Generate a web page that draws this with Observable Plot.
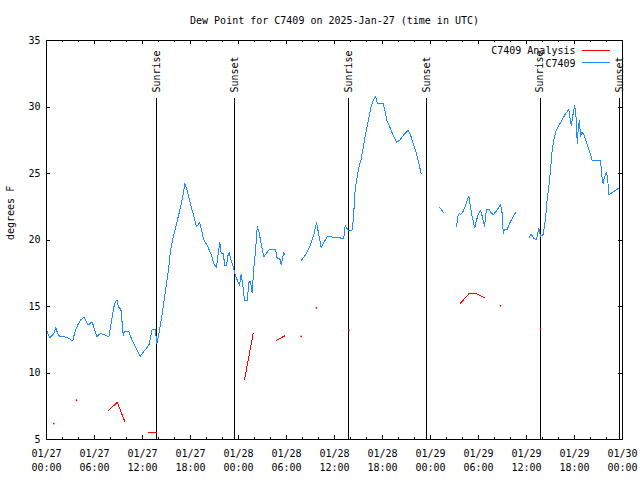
<!DOCTYPE html>
<html><head><meta charset="utf-8">
<script src="https://cdn.jsdelivr.net/npm/d3@7"></script>
<script src="https://cdn.jsdelivr.net/npm/@observablehq/plot@0.6"></script>
<style>body{margin:0;background:#fff}</style>
</head><body><div id="chart"></div>
<script>
const title = "Dew Point for C7409 on 2025-Jan-27 (time in UTC)";
const yLabel = "degrees F";
const seriesNames = ["C7409 Analysis", "C7409"];
const seriesColors = ["#ff0000", "#1e8cff"];

// observed dew point (hours since 01/27 00:00 UTC), null = gap
const obsHours = [0.09,0.41,0.91,1.16,1.41,1.66,2.4,2.8,3.3,3.5,3.9,4.3,4.7,5.2,5.7,6.3,6.7,7.2,7.8,8.2,8.5,8.8,9.0,9.3,9.6,9.75,10.3,10.7,11.7,12.8,13.2,13.6,13.8,
 14.04,14.46,14.88,15.29,15.5,15.84,16.34,16.75,17.09,17.29,17.59,18.0,18.41,18.75,19.16,19.38,19.66,20.09,20.59,20.91,21.25,21.46,21.66,21.84,22.09,22.29,22.5,22.66,22.84,23.0,23.34,
 23.63,23.84,24.13,24.34,24.54,24.75,25.09,25.29,25.5,25.71,25.91,26.13,26.34,26.54,26.75,27.16,27.38,27.79,28.63,28.84,29.16,29.34,29.66,29.79,
 30.8,
 31.84,32.38,33.0,33.41,33.75,34.04,34.34,34.66,35.16,35.91,36.75,37.16,37.34,37.66,38.21,38.41,38.5,38.75,39.04,39.34,39.59,39.88,40.29,40.59,40.91,41.13,41.34,41.75,42.09,42.38,42.59,42.91,43.21,43.75,44.16,44.66,45.21,45.5,45.84,46.13,46.41,46.66,46.84,
 48.0,
 49.16,49.66,
 50.5,
 51.25,51.41,51.59,51.75,52.04,52.38,52.79,52.91,53.13,53.34,53.54,53.75,53.96,54.25,54.46,54.75,55.0,55.29,55.59,55.84,56.13,56.54,56.75,56.96,57.09,57.29,57.59,58.0,58.63,
 59.5,
 60.29,60.59,60.91,61.25,61.54,61.75,62.09,62.38,62.59,62.79,63.0,63.21,63.41,63.63,64.04,64.46,64.88,65.29,65.59,65.79,66.0,66.13,66.25,66.34,66.5,66.63,66.75,66.91,67.16,67.5,67.91,68.21,69.25,69.46,69.59,69.75,69.88,70.0,70.16,70.29,70.91,71.54];
const obsValues = [13.1,12.65,12.95,13.4,12.95,12.75,12.7,12.6,12.4,13.0,13.6,14.0,14.2,13.6,13.85,12.75,12.95,12.9,12.7,14.2,15.2,15.5,14.95,14.8,12.8,13.1,13.1,12.45,11.25,12.1,13.25,13.25,12.2,
 12.95,14.45,16.2,17.95,19.2,20.2,21.45,22.45,23.45,24.25,23.7,22.7,21.8,21.0,21.3,20.75,20.0,19.6,18.9,18.25,17.9,19.0,19.8,19.0,19.0,18.05,18.05,18.8,19.05,18.6,18.0,
 17.3,17.0,16.6,17.45,16.6,15.45,15.45,16.8,16.9,16.05,17.9,19.15,21.0,20.65,20.0,18.75,18.9,19.25,19.25,18.6,18.6,18.15,19.05,18.9,
 null,
 18.45,18.9,19.65,20.4,21.3,20.4,19.4,19.8,20.3,20.2,20.15,20.15,21.1,20.75,20.75,21.9,23.3,24.45,25.45,26.1,26.95,27.95,29.2,30.1,30.6,30.8,30.3,30.3,30.25,29.5,28.9,28.5,28.05,27.35,27.5,27.9,28.25,27.9,27.25,26.75,26.1,25.45,25.0,
 null,
 22.45,22.05,
 null,
 21.0,21.75,22.0,21.9,22.1,22.6,23.3,22.85,22.0,21.4,20.9,21.5,21.9,22.2,21.8,21.05,22.3,22.3,22.05,21.9,22.1,22.45,22.7,22.0,20.5,20.8,20.8,21.4,22.05,
 null,
 20.15,20.45,20.1,20.05,20.9,20.3,20.4,21.6,23.1,24.0,25.25,26.75,27.5,28.1,28.6,29.05,29.5,29.8,28.6,29.35,30.1,29.75,28.75,27.25,28.6,28.95,27.75,28.1,27.95,27.35,26.6,26.0,26.0,24.6,24.25,24.75,24.9,25.1,24.5,23.4,23.65,23.9];

// analysis dew point, null = gap
const anaHours = [0.91,2,3.75,5,7.8,8.84,9.79,11,12.79,13.75,19,24.75,25.84,27,28.75,29.79,31,31.84,33,33.75,35,37.79,45,51.75,52.79,53.75,54.25,54.79,55.5,56.75,59,61.75];
const anaValues = [6.2,null,7.95,null,7.2,7.8,6.35,null,5.5,5.5,null,9.5,13.0,null,12.45,12.8,null,12.75,null,14.9,null,13.2,null,15.25,15.95,15.95,15.8,15.65,null,15.05,null,13.3];

const sunHours = [13.8, 23.55, 37.78, 47.55, 61.72, 71.6];
const sunLabels = ["Sunrise", "Sunset", "Sunrise", "Sunset", "Sunrise", "Sunset"];

const xTickHours = [0,6,12,18,24,30,36,42,48,54,60,66,72];
const xTickLabels = ["01/27\n00:00","01/27\n06:00","01/27\n12:00","01/27\n18:00","01/28\n00:00","01/28\n06:00","01/28\n12:00","01/28\n18:00","01/29\n00:00","01/29\n06:00","01/29\n12:00","01/29\n18:00","01/30\n00:00"];
const xMinorHours = d3.range(0, 73, 2);
const yTicks = [5,10,15,20,25,30,35];

const W = 640, H = 480, mL = 46, mR = 18, mT = 40, mB = 41;
const FW = W - mL - mR, FH = H - mT - mB;

const obs = obsHours.map((t, i) => ({t, v: obsValues[i]}));
const ana = anaHours.map((t, i) => ({t, v: anaValues[i]}));
const anaIsolated = ana.filter((d, i) => d.v != null && (i === 0 || ana[i-1].v == null) && (i === ana.length-1 || ana[i+1].v == null));

const font = "DejaVu Sans Mono";
const crisp = {shapeRendering: "crispEdges"};

const chart = Plot.plot({
  width: W, height: H,
  marginLeft: mL, marginRight: mR, marginTop: mT, marginBottom: mB,
  style: {fontFamily: font, fontSize: "10px", background: "#fff", color: "#000"},
  x: {domain: [0, 72]},
  y: {domain: [5, 35]},
  marks: [
    Plot.ruleX(xMinorHours, {x: d => d, insetTop: FH - 2, stroke: "#000", ...crisp}),
    Plot.ruleX(xTickHours, {x: d => d, insetTop: FH - 4, stroke: "#000", ...crisp}),
    Plot.ruleX(xMinorHours, {x: d => d, insetBottom: FH - 2, stroke: "#000", ...crisp}),
    Plot.ruleX(xTickHours, {x: d => d, insetBottom: FH - 4, stroke: "#000", ...crisp}),
    Plot.ruleY(yTicks, {y: d => d, insetRight: FW - 4, stroke: "#000", ...crisp}),
    Plot.ruleY(yTicks, {y: d => d, insetLeft: FW - 4, stroke: "#000", ...crisp}),
    Plot.axisX({ticks: xTickHours, tickFormat: (d, i) => xTickLabels[i], tickSize: 0, tickPadding: 8, lineHeight: 1.4, label: null, fill: "#000"}),
    Plot.axisY({ticks: yTicks, tickSize: 0, tickPadding: 6, label: null, fill: "#000"}),
    Plot.text([yLabel], {text: d => d, frameAnchor: "left", dx: -36, rotate: -90, lineAnchor: "middle", fill: "#000"}),
    Plot.text([title], {text: d => d, frameAnchor: "top", dy: -20, lineAnchor: "middle", fill: "#000"}),
    Plot.ruleX(sunHours, {x: d => d, insetTop: 58, stroke: "#000", strokeWidth: 1, ...crisp}),
    Plot.text(sunHours, {x: d => d, text: (d, i) => sunLabels[i], frameAnchor: "top", dy: 52, rotate: -90, textAnchor: "start", lineAnchor: "middle", fill: "#000"}),
    Plot.line(ana, {x: "t", y: "v", stroke: seriesColors[0], strokeWidth: 1, ...crisp}),
    Plot.dot(anaIsolated, {x: "t", y: "v", r: 0.9, fill: seriesColors[0], stroke: null}),
    Plot.line(obs, {x: "t", y: "v", stroke: seriesColors[1], strokeWidth: 1, ...crisp}),
    Plot.text([seriesNames[0]], {text: d => d, frameAnchor: "top-right", dx: -47, dy: 10.5, textAnchor: "end", lineAnchor: "middle", fill: "#000"}),
    Plot.text([seriesNames[1]], {text: d => d, frameAnchor: "top-right", dx: -47, dy: 23, textAnchor: "end", lineAnchor: "middle", fill: "#000"}),
    Plot.frame({stroke: "#000", ...crisp})
  ]
});

// legend swatches
const svg = d3.select(chart);
[0, 1].forEach(i => {
  svg.append("line")
    .attr("x1", W - mR - 40).attr("x2", W - mR - 12)
    .attr("y1", mT + 10 + i * 12.5).attr("y2", mT + 10 + i * 12.5)
    .attr("stroke", seriesColors[i]).attr("stroke-width", 1)
    .attr("shape-rendering", "crispEdges");
});

document.getElementById("chart").appendChild(chart);
</script>
</body></html>
